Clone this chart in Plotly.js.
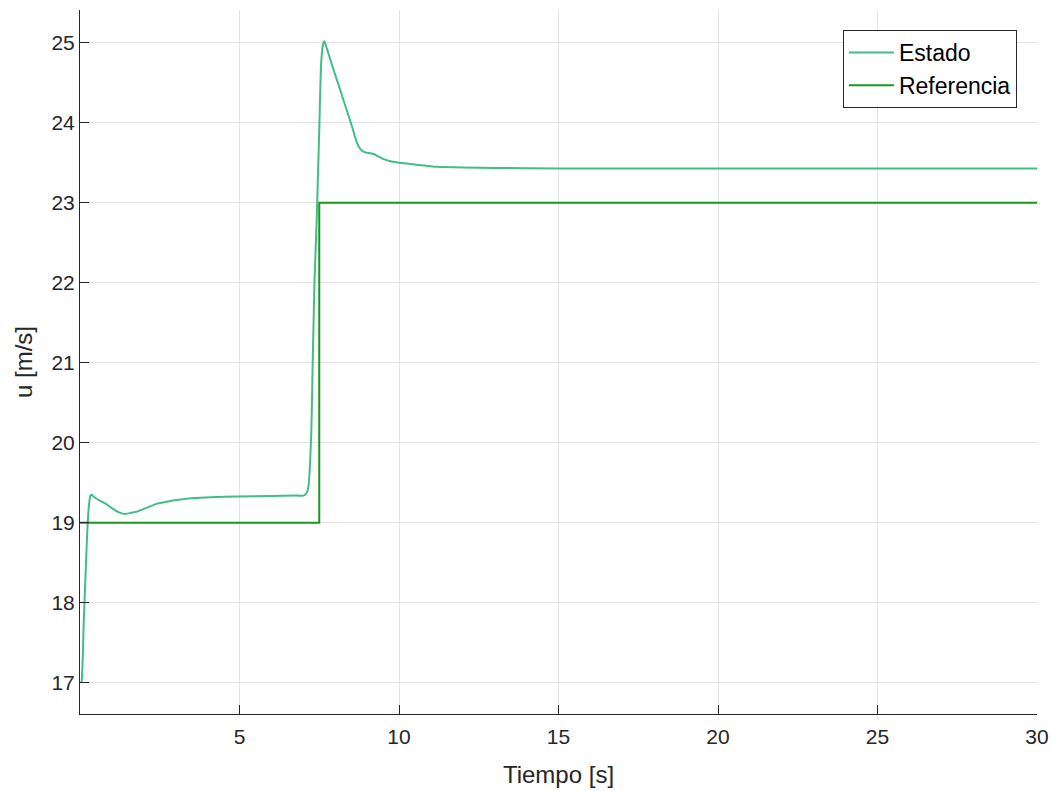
<!DOCTYPE html>
<html>
<head>
<meta charset="utf-8">
<script src="https://cdn.plot.ly/plotly-3.0.1.min.js"></script>
<style>html,body{margin:0;padding:0;background:#fff;}#chart{width:1053px;height:791px;}</style>
</head>
<body>
<div id="chart"></div>
<script>
// Estado (state) trace
const tEstado = [0.02, 0.05, 0.12, 0.18, 0.23, 0.28, 0.33, 0.37, 0.42, 0.49, 0.65, 0.80, 1.01, 1.22, 1.43, 1.64, 1.79, 2.10, 2.42, 2.80, 3.15, 3.60, 4.09, 4.93, 6.00, 6.80, 7.01, 7.06, 7.11, 7.16, 7.25, 7.29, 7.35, 7.42, 7.50, 7.56, 7.62, 7.66, 7.72, 7.80, 7.95, 8.10, 8.27, 8.40, 8.53, 8.64, 8.74, 8.84, 8.95, 9.10, 9.21, 9.35, 9.50, 9.73, 10.00, 10.25, 10.70, 11.19, 12.00, 13.00, 15.00, 20.00, 25.00, 30.00];
const yEstado = [17.00, 17.02, 17.79, 18.41, 18.91, 19.22, 19.34, 19.35, 19.33, 19.31, 19.27, 19.24, 19.18, 19.13, 19.11, 19.13, 19.14, 19.19, 19.24, 19.27, 19.29, 19.31, 19.32, 19.33, 19.335, 19.34, 19.34, 19.35, 19.38, 19.45, 20.12, 20.91, 22.00, 22.79, 23.91, 24.75, 24.98, 25.02, 24.95, 24.85, 24.66, 24.48, 24.27, 24.11, 23.95, 23.80, 23.70, 23.65, 23.63, 23.62, 23.61, 23.58, 23.55, 23.52, 23.50, 23.49, 23.47, 23.45, 23.44, 23.435, 23.43, 23.43, 23.43, 23.43];

// Referencia (reference) trace
const tRef = [0, 7.5, 7.5, 30];
const yRef = [19, 19, 23, 23];

const xTicks = [5, 10, 15, 20, 25, 30];
const yTicks = [17, 18, 19, 20, 21, 22, 23, 24, 25];

const axisColor = '#262626';
const gridColor = '#e3e3e3';
const fontFam = 'Liberation Sans, Arial, Helvetica, sans-serif';

const traces = [
  {x: tEstado, y: yEstado, mode: 'lines', name: 'Estado',
   line: {color: '#3fbf86', width: 2, shape: 'spline', smoothing: 0.5}},
  {x: tRef, y: yRef, mode: 'lines', name: 'Referencia',
   line: {color: '#1a991a', width: 2}}
];

const layout = {
  width: 1053, height: 791,
  margin: {l: 80, r: 16, t: 10, b: 77},
  paper_bgcolor: '#ffffff', plot_bgcolor: '#ffffff',
  font: {family: fontFam, color: axisColor},
  showlegend: true,
  legend: {
    x: 0.979, y: 0.9716, xanchor: 'right', yanchor: 'top',
    bgcolor: '#ffffff', bordercolor: axisColor, borderwidth: 1,
    font: {size: 23, family: fontFam, color: '#000000'},
    itemwidth: 45,
    tracegroupgap: 0
  },
  xaxis: {
    range: [0, 30], tickvals: xTicks, ticktext: xTicks.map(String),
    showline: true, linecolor: axisColor, linewidth: 1, mirror: false,
    ticks: 'inside', ticklen: 9, tickcolor: axisColor, tickwidth: 1,
    showgrid: true, gridcolor: gridColor, gridwidth: 1, zeroline: false,
    tickfont: {size: 21, color: axisColor},
    ticklabelstandoff: 4,
    title: {text: 'Tiempo [s]', font: {size: 24, color: axisColor}, standoff: 18}
  },
  yaxis: {
    range: [16.61, 25.41], tickvals: yTicks, ticktext: yTicks.map(String),
    showline: true, linecolor: axisColor, linewidth: 1, mirror: false,
    ticks: 'inside', ticklen: 9, tickcolor: axisColor, tickwidth: 1,
    showgrid: true, gridcolor: gridColor, gridwidth: 1, zeroline: false,
    tickfont: {size: 21, color: axisColor},
    title: {text: 'u [m/s]', font: {size: 24, color: axisColor}, standoff: 12}
  }
};

Plotly.newPlot('chart', traces, layout, {displayModeBar: false, staticPlot: true});
</script>
</body>
</html>
